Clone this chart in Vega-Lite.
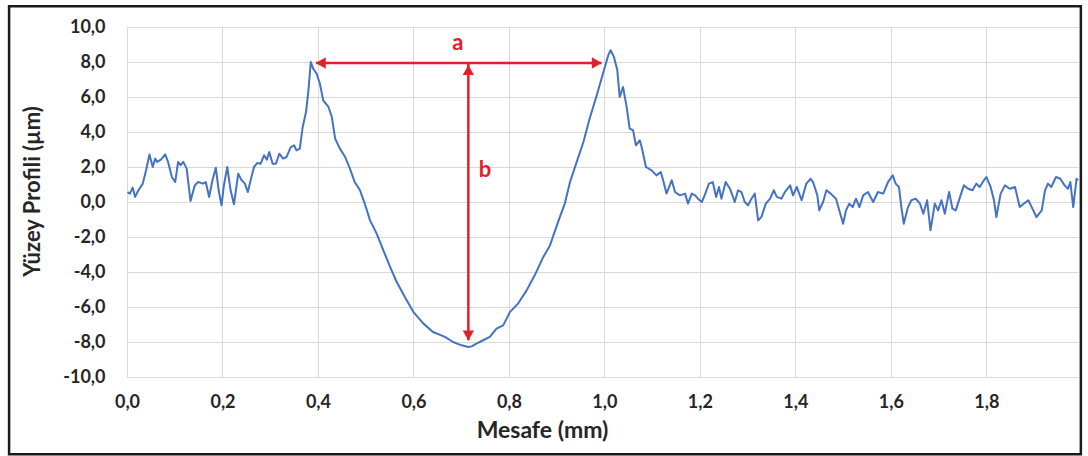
{
  "$schema": "https://vega.github.io/schema/vega-lite/v6.json",
  "width": 951,
  "height": 350,
  "autosize": {"type": "none"},
  "padding": {"left": 127, "top": 27, "right": 10, "bottom": 79},
  "background": "white",
  "config": {
    "view": {"stroke": null},
    "font": "Lato",
    "axis": {
      "labelFont": "Lato", "labelFontWeight": "bold", "labelFontSize": 18, "labelColor": "#262626",
      "titleFont": "Lato", "titleFontWeight": "bold", "titleFontSize": 22, "titleColor": "#262626",
      "grid": true, "gridColor": "#D9D9D9", "gridWidth": 1, "domain": false, "ticks": false, "labelOverlap": false
    }
  },
  "datasets": {
    "profile": [
      {"x":0.001,"y":0.57},{"x":0.006,"y":0.48},{"x":0.012,"y":0.82},{"x":0.017,"y":0.29},{"x":0.024,"y":0.67},{"x":0.033,"y":1.05},{"x":0.040,"y":1.81},{"x":0.047,"y":2.72},{"x":0.054,"y":2.0},{"x":0.059,"y":2.48},{"x":0.063,"y":2.29},{"x":0.071,"y":2.42},{"x":0.080,"y":2.72},{"x":0.086,"y":2.29},{"x":0.094,"y":1.43},{"x":0.101,"y":1.14},{"x":0.107,"y":2.29},{"x":0.112,"y":2.1},{"x":0.118,"y":2.29},{"x":0.125,"y":1.91},{"x":0.133,"y":0.06},{"x":0.142,"y":0.95},{"x":0.149,"y":1.14},{"x":0.159,"y":1.05},{"x":0.165,"y":1.14},{"x":0.172,"y":0.29},{"x":0.179,"y":1.24},{"x":0.186,"y":1.96},{"x":0.192,"y":0.67},{"x":0.198,"y":-0.19},{"x":0.203,"y":0.95},{"x":0.210,"y":2.0},{"x":0.217,"y":0.67},{"x":0.224,"y":-0.13},{"x":0.233,"y":1.62},{"x":0.240,"y":1.24},{"x":0.247,"y":1.05},{"x":0.253,"y":0.57},{"x":0.259,"y":1.24},{"x":0.266,"y":2.0},{"x":0.273,"y":2.23},{"x":0.280,"y":2.19},{"x":0.287,"y":2.67},{"x":0.293,"y":2.42},{"x":0.298,"y":2.86},{"x":0.305,"y":2.19},{"x":0.312,"y":2.19},{"x":0.319,"y":2.76},{"x":0.327,"y":2.48},{"x":0.334,"y":2.57},{"x":0.343,"y":3.14},{"x":0.350,"y":3.24},{"x":0.355,"y":2.95},{"x":0.362,"y":3.05},
      {"x":0.368,"y":4.29},{"x":0.375,"y":5.14},{"x":0.380,"y":6.38},{"x":0.385,"y":8.0},{"x":0.390,"y":7.62},{"x":0.397,"y":7.34},{"x":0.404,"y":6.77},{"x":0.411,"y":5.81},{"x":0.422,"y":5.43},{"x":0.429,"y":4.86},{"x":0.436,"y":3.62},{"x":0.446,"y":3.05},{"x":0.457,"y":2.57},{"x":0.467,"y":1.91},{"x":0.477,"y":1.14},{"x":0.488,"y":0.67},{"x":0.498,"y":-0.09},{"x":0.509,"y":-1.05},{"x":0.523,"y":-1.81},{"x":0.537,"y":-2.76},{"x":0.551,"y":-3.71},{"x":0.565,"y":-4.57},{"x":0.582,"y":-5.43},{"x":0.600,"y":-6.29},{"x":0.621,"y":-6.95},{"x":0.641,"y":-7.43},{"x":0.666,"y":-7.71},{"x":0.683,"y":-8.0},{"x":0.701,"y":-8.19},{"x":0.715,"y":-8.29},
      {"x":0.722,"y":-8.25},{"x":0.732,"y":-8.09},{"x":0.746,"y":-7.9},{"x":0.760,"y":-7.71},{"x":0.774,"y":-7.24},{"x":0.788,"y":-7.05},{"x":0.802,"y":-6.29},{"x":0.819,"y":-5.81},{"x":0.837,"y":-5.05},{"x":0.854,"y":-4.19},{"x":0.872,"y":-3.14},{"x":0.886,"y":-2.48},{"x":0.903,"y":-1.14},{"x":0.917,"y":-0.09},{"x":0.928,"y":1.14},{"x":0.942,"y":2.29},{"x":0.956,"y":3.43},{"x":0.970,"y":4.86},{"x":0.984,"y":6.1},{"x":0.997,"y":7.34},{"x":1.008,"y":8.38},{"x":1.013,"y":8.67},{"x":1.020,"y":8.29},{"x":1.027,"y":7.53},{"x":1.032,"y":6.0},{"x":1.039,"y":6.57},{"x":1.046,"y":5.52},{"x":1.053,"y":4.19},{"x":1.060,"y":4.1},{"x":1.066,"y":3.24},{"x":1.074,"y":3.52},
      {"x":1.078,"y":3.14},{"x":1.087,"y":2.0},{"x":1.099,"y":1.81},{"x":1.109,"y":1.52},{"x":1.118,"y":1.71},{"x":1.123,"y":1.24},{"x":1.130,"y":0.48},{"x":1.141,"y":1.24},{"x":1.148,"y":0.57},{"x":1.158,"y":0.38},{"x":1.169,"y":0.48},{"x":1.175,"y":-0.09},{"x":1.183,"y":0.48},{"x":1.190,"y":0.38},{"x":1.196,"y":0.19},{"x":1.204,"y":0.0},{"x":1.210,"y":0.38},{"x":1.219,"y":1.05},{"x":1.227,"y":1.14},{"x":1.234,"y":0.29},{"x":1.240,"y":0.86},{"x":1.245,"y":0.19},{"x":1.254,"y":1.14},{"x":1.263,"y":0.76},{"x":1.273,"y":0.0},{"x":1.280,"y":0.67},{"x":1.287,"y":0.57},{"x":1.294,"y":0.0},{"x":1.301,"y":-0.19},{"x":1.308,"y":0.19},{"x":1.315,"y":0.48},{"x":1.322,"y":-1.05},{"x":1.329,"y":-0.86},{"x":1.338,"y":-0.09},{"x":1.347,"y":0.19},{"x":1.355,"y":0.67},{"x":1.361,"y":0.29},{"x":1.371,"y":0.19},{"x":1.378,"y":0.57},{"x":1.389,"y":0.95},{"x":1.395,"y":0.38},{"x":1.403,"y":0.86},{"x":1.413,"y":0.1},{"x":1.423,"y":1.05},{"x":1.432,"y":1.33},{"x":1.437,"y":1.14},{"x":1.446,"y":0.38},{"x":1.450,"y":-0.48},{"x":1.458,"y":0.0},{"x":1.465,"y":0.67},{"x":1.474,"y":0.48},{"x":1.485,"y":0.19},{"x":1.490,"y":-0.29},
      {"x":1.493,"y":-0.57},{"x":1.500,"y":-1.24},{"x":1.506,"y":-0.48},{"x":1.513,"y":-0.09},{"x":1.520,"y":-0.29},{"x":1.527,"y":0.19},{"x":1.534,"y":-0.29},{"x":1.542,"y":0.38},{"x":1.552,"y":0.57},{"x":1.563,"y":0.0},{"x":1.573,"y":0.57},{"x":1.584,"y":0.48},{"x":1.594,"y":1.14},{"x":1.604,"y":1.52},{"x":1.610,"y":1.05},{"x":1.617,"y":0.86},{"x":1.622,"y":-0.29},{"x":1.627,"y":-1.24},{"x":1.636,"y":-0.29},{"x":1.643,"y":0.1},{"x":1.652,"y":0.19},{"x":1.661,"y":-0.09},{"x":1.668,"y":-0.67},{"x":1.676,"y":0.1},{"x":1.683,"y":-1.62},{"x":1.692,"y":-0.09},{"x":1.699,"y":-0.48},{"x":1.706,"y":0.1},{"x":1.713,"y":-0.67},{"x":1.722,"y":0.57},{"x":1.729,"y":-0.38},{"x":1.736,"y":-0.48},{"x":1.746,"y":0.38},{"x":1.753,"y":0.95},{"x":1.762,"y":0.76},{"x":1.771,"y":0.67},{"x":1.779,"y":1.05},{"x":1.786,"y":0.86},{"x":1.795,"y":1.24},{"x":1.800,"y":1.43},{"x":1.809,"y":0.86},{"x":1.816,"y":0.1},{"x":1.821,"y":-0.86},{"x":1.830,"y":0.48},{"x":1.839,"y":0.95},{"x":1.849,"y":0.76},{"x":1.860,"y":0.86},{"x":1.870,"y":-0.29},{"x":1.879,"y":-0.09},{"x":1.888,"y":0.1},{"x":1.895,"y":-0.29},{"x":1.905,"y":-0.86},{"x":1.916,"y":-0.48},{"x":1.923,"y":0.67},{"x":1.929,"y":1.05},{"x":1.936,"y":0.86},{"x":1.946,"y":1.43},{"x":1.955,"y":1.33},{"x":1.964,"y":0.95},{"x":1.971,"y":0.76},{"x":1.976,"y":1.14},{"x":1.982,"y":-0.29},{"x":1.989,"y":1.33},{"x":1.992,"y":1.24}
    ],
    "arrows": [
      {"x":0.396,"x2":0.994,"y":7.94,"y2":7.94},
      {"x":0.715,"x2":0.715,"y":7.94,"y2":-7.9}
    ],
    "heads": [
      {"x":0.406,"y":7.94,"dir":"left"},
      {"x":0.984,"y":7.94,"dir":"right"},
      {"x":0.715,"y":7.54,"dir":"up"},
      {"x":0.715,"y":-7.63,"dir":"down"}
    ],
    "labels": [
      {"x":0.693,"y":9.1,"label":"a"},
      {"x":0.75,"y":1.83,"label":"b"}
    ],
    "frame": [
      {"x":-0.247,"x2":1.998,"y":11.18,"y2":-14.42}
    ]
  },
  "layer": [
    {
      "data": {"name": "profile"},
      "mark": {"type": "line", "color": "#4472C4", "strokeWidth": 2, "strokeJoin": "round"},
      "encoding": {
        "x": {
          "field": "x", "type": "quantitative",
          "scale": {"domain": [0, 1.992], "nice": false, "zero": false},
          "axis": {
            "title": "Mesafe (mm)",
            "values": [0, 0.2, 0.4, 0.6, 0.8, 1.0, 1.2, 1.4, 1.6, 1.8],
            "labelExpr": "replace(replace(format(datum.value, '.1f'), '.', ','), '\u2212', '-')",
            "labelPadding": 16, "titlePadding": 8, "titleX": 415, "labelFlush": false, "labelOverlap": false, "titleFontSize": 23
          }
        },
        "y": {
          "field": "y", "type": "quantitative",
          "scale": {"domain": [-10, 10], "nice": false},
          "axis": {
            "title": "Yüzey Profili (µm)",
            "values": [-10, -8, -6, -4, -2, 0, 2, 4, 6, 8, 10],
            "tickCount": 11,
            "labelExpr": "replace(replace(format(datum.value, '.1f'), '.', ','), '\u2212', '-')",
            "labelPadding": 22, "titlePadding": 18, "titleY": 164, "labelOverlap": false, "labelFlush": false
          }
        }
      }
    },
    {
      "data": {"name": "arrows"},
      "mark": {"type": "rule", "color": "#E3202A", "strokeWidth": 2.5},
      "encoding": {
        "x": {"field": "x", "type": "quantitative"},
        "x2": {"field": "x2"},
        "y": {"field": "y", "type": "quantitative"},
        "y2": {"field": "y2"}
      }
    },
    {
      "data": {"name": "heads"},
      "mark": {"type": "point", "filled": true, "color": "#E3202A", "opacity": 1, "size": 130},
      "encoding": {
        "x": {"field": "x", "type": "quantitative"},
        "y": {"field": "y", "type": "quantitative"},
        "shape": {
          "field": "dir", "type": "nominal", "legend": null,
          "scale": {"domain": ["left", "right", "up", "down"], "range": ["triangle-left", "triangle-right", "triangle-up", "triangle-down"]}
        }
      }
    },
    {
      "data": {"name": "labels"},
      "mark": {"type": "text", "color": "#E3202A", "font": "Lato", "fontWeight": "bold", "fontSize": 22},
      "encoding": {
        "x": {"field": "x", "type": "quantitative"},
        "y": {"field": "y", "type": "quantitative"},
        "text": {"field": "label"}
      }
    },
    {
      "data": {"name": "frame"},
      "mark": {"type": "rect", "fillOpacity": 0, "fill": "white", "stroke": "#1a1a1a", "strokeWidth": 2.5, "clip": false},
      "encoding": {
        "x": {"field": "x", "type": "quantitative"},
        "x2": {"field": "x2"},
        "y": {"field": "y", "type": "quantitative"},
        "y2": {"field": "y2"}
      }
    }
  ]
}
